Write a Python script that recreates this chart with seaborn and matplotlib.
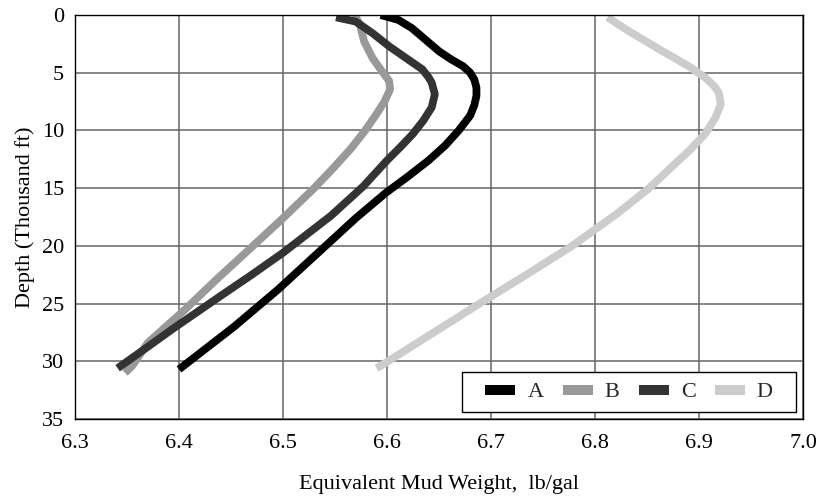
import matplotlib
matplotlib.use("Agg")
import matplotlib.pyplot as plt
from matplotlib.lines import Line2D
from matplotlib.patches import Rectangle
import pandas as pd
import seaborn as sns

# Equivalent mud weight (lb/gal) versus depth (thousand ft) for four cases
depth_a = [0.0, 0.43, 1.14, 2.14, 3.14, 3.86, 4.43, 5.0, 5.6, 6.29, 7.0, 7.8, 8.71, 10.0, 11.3, 12.6,
           14.0, 15.4, 17.6, 20.0, 23.8, 27.0, 30.7]
emw_a = [6.594, 6.611, 6.624, 6.637, 6.650, 6.662, 6.673, 6.680, 6.684, 6.686, 6.686, 6.684, 6.680, 6.669,
         6.656, 6.640, 6.620, 6.599, 6.570, 6.541, 6.495, 6.453, 6.400]

depth_b = [0.0, 0.86, 2.29, 3.71, 4.86, 5.71, 6.43, 7.43, 8.57, 10.0, 11.5, 13.2, 15.0, 17.6, 20.6,
           23.0, 25.5, 28.4, 30.4, 31.0]
emw_b = [6.569, 6.574, 6.578, 6.586, 6.595, 6.602, 6.603, 6.598, 6.590, 6.579, 6.566, 6.549, 6.530, 6.500,
         6.464, 6.435, 6.406, 6.370, 6.355, 6.348]

depth_c = [0.2, 0.57, 1.57, 2.71, 3.71, 4.71, 5.4, 5.86, 6.86, 8.0, 9.14, 10.29, 11.43, 12.6, 14.86,
           17.4, 20.6, 22.5, 24.4, 27.0, 29.0, 30.6]
emw_c = [6.551, 6.570, 6.586, 6.602, 6.618, 6.634, 6.640, 6.643, 6.646, 6.643, 6.635, 6.625, 6.613, 6.600,
         6.577, 6.546, 6.500, 6.470, 6.439, 6.397, 6.366, 6.341]

depth_d = [0.2, 1.43, 3.14, 4.43, 5.43, 6.1, 6.71, 7.71, 8.86, 10.29, 11.71, 13.4, 15.0, 17.16, 20.0,
           22.5, 25.0, 27.5, 30.0, 30.6]
emw_d = [6.812, 6.833, 6.865, 6.890, 6.906, 6.914, 6.919, 6.921, 6.916, 6.906, 6.891, 6.871, 6.852, 6.822,
         6.778, 6.734, 6.689, 6.645, 6.601, 6.590]

series_names = ["A", "B", "C", "D"]
series_colors = ["#000000", "#999999", "#333333", "#cccccc"]
x_ticks = [6.3, 6.4, 6.5, 6.6, 6.7, 6.8, 6.9, 7.0]
y_ticks = [0, 5, 10, 15, 20, 25, 30, 35]

frames = []
for name, d, w in zip(series_names, [depth_a, depth_b, depth_c, depth_d], [emw_a, emw_b, emw_c, emw_d]):
    frames.append(pd.DataFrame({"case": name, "depth": d, "emw": w}))
data = pd.concat(frames, ignore_index=True)

sns.set_theme(style="white")
plt.rcParams["font.family"] = ["Liberation Serif", "DejaVu Serif"]

fig = plt.figure(figsize=(8.22, 4.96), dpi=100)
ax = fig.add_axes([75 / 822, 1 - 419 / 496, 728 / 822, 404 / 496])

for name, color in zip(series_names, series_colors):
    sub = data[data["case"] == name]
    sns.lineplot(data=sub, x="emw", y="depth", sort=False, estimator=None,
                 color=color, linewidth=5.6, ax=ax, legend=False,
                 solid_capstyle="butt", solid_joinstyle="round")

ax.set_xlim(6.3, 7.0)
ax.set_ylim(35, 0)
ax.set_xticks(x_ticks)
ax.set_xticklabels([f"{v:.1f}" for v in x_ticks])
ax.set_yticks(y_ticks)
ax.set_yticklabels([str(v) for v in y_ticks])
ax.grid(True, color="#666666", linewidth=1.1)
ax.set_axisbelow(True)
for s in ax.spines.values():
    s.set_color("black")
    s.set_linewidth(1.0)
    s.set_visible(True)

ax.tick_params(axis="both", length=0, labelsize=16, colors="black")
ax.tick_params(axis="x", pad=11)
ax.tick_params(axis="y", pad=8)

ax.set_xlabel("Equivalent Mud Weight,  lb/gal", fontsize=16, color="black", labelpad=16)
ax.set_ylabel("Depth (Thousand ft)", fontsize=16, color="black", labelpad=5)

# legend box with a plain black frame
box_x0, box_x1, box_y0, box_y1 = 0.5316, 0.9904, 0.0173, 0.1163
ax.add_patch(Rectangle((box_x0, box_y0), box_x1 - box_x0, box_y1 - box_y0,
                       transform=ax.transAxes, facecolor="white", edgecolor="black",
                       linewidth=1.0, zorder=4.9, clip_on=False))
handles = [Line2D([0], [0], color=c, linewidth=7.2, solid_capstyle="butt") for c in series_colors]
leg = ax.legend(handles, series_names, loc="center",
                bbox_to_anchor=((box_x0 + box_x1) / 2, (box_y0 + box_y1) / 2),
                ncol=4, fontsize=16, frameon=False,
                handlelength=1.35, handletextpad=0.55, columnspacing=0.85,
                borderaxespad=0, borderpad=0)
leg.set_zorder(5)

fig.savefig("out.png", dpi=100)
